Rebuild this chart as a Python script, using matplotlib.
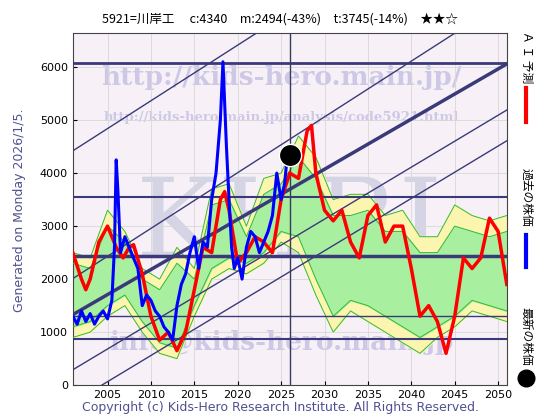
import matplotlib
matplotlib.use("Agg")
import matplotlib.pyplot as plt

plt.rcParams['font.family'] = ['DejaVu Sans', 'Noto Sans CJK JP']
JP = ['Noto Sans CJK JP', 'DejaVu Sans']

# past price (blue)
hist_x = [2001, 2001.5, 2002, 2002.5, 2003, 2003.5, 2004, 2004.5, 2005, 2005.5, 2005.8, 2006.0, 2006.2,
          2006.5, 2007, 2007.5, 2008, 2008.5, 2009, 2009.5, 2010, 2010.5, 2011, 2011.5, 2012, 2012.5,
          2013, 2013.5, 2014, 2014.5, 2015, 2015.5, 2016, 2016.5, 2017, 2017.5, 2018, 2018.3, 2018.7,
          2019, 2019.3, 2019.6, 2020, 2020.5, 2021, 2021.5, 2022, 2022.5, 2023, 2023.5, 2024, 2024.5,
          2025, 2025.4, 2025.7, 2026]
hist_y = [1300, 1150, 1400, 1200, 1350, 1150, 1300, 1400, 1250, 1600, 2600, 4250, 3650,
          2500, 2800, 2600, 2400, 2200, 1500, 1700, 1600, 1400, 1300, 1100, 1000, 850,
          1500, 1900, 2100, 2500, 2800, 2200, 2700, 2600, 3500, 4000, 5000, 6100, 4500,
          3500, 2600, 2200, 2400, 2000, 2600, 2900, 2800, 2500, 2700, 2900, 3200, 4000,
          3500, 3800, 4300, 4340]

# AI forecast (red)
ai_x = [2001, 2002, 2002.5, 2003, 2004, 2005, 2006, 2006.8, 2007.5, 2008, 2009, 2010, 2011, 2012,
        2013, 2014, 2015, 2016, 2017, 2018, 2018.5, 2019, 2020, 2021, 2022, 2023, 2024, 2025, 2026,
        2027, 2028, 2028.5, 2029, 2030, 2031, 2032, 2033, 2034, 2035, 2036, 2037, 2038, 2039, 2040,
        2041, 2042, 2043, 2044, 2045, 2046, 2047, 2048, 2049, 2050, 2051]
ai_y = [2500, 2000, 1800, 2000, 2700, 3000, 2600, 2400, 2600, 2650, 2100, 1300, 850, 1000,
        650, 1000, 1800, 2600, 2500, 3500, 3650, 3300, 2300, 2500, 2800, 2700, 2500, 3500, 4000,
        3900, 4800, 4900, 4000, 3300, 3100, 3300, 2700, 2400, 3200, 3400, 2700, 3000, 3000, 2200,
        1300, 1500, 1200, 600, 1300, 2400, 2200, 2400, 3150, 2900, 1900]

# forecast band
band_x = list(range(2001, 2052, 2))
yel_hi = [2500, 2400, 3300, 2900, 2200, 2000, 2600, 2200, 3700, 3800, 3000, 3900, 4000,
          4700, 4300, 3500, 3600, 3600, 3200, 3300, 2800, 2800, 3400, 3200, 3100, 3200]
yel_lo = [900, 1000, 1300, 1500, 1000, 600, 500, 1300, 2000, 2200, 2100, 2300, 2700,
          2500, 1700, 1000, 1400, 1200, 1000, 800, 600, 900, 1100, 1400, 1300, 1200]
grn_hi = [2300, 2200, 3000, 2700, 2000, 1800, 2300, 2000, 3400, 3500, 2800, 3600, 3800,
          4300, 3900, 3200, 3200, 3300, 2900, 2900, 2500, 2500, 3000, 2900, 2800, 2900]
grn_lo = [1100, 1200, 1500, 1700, 1200, 800, 700, 1500, 2200, 2400, 2300, 2500, 2900,
          2800, 2000, 1300, 1600, 1500, 1300, 1100, 900, 1100, 1300, 1600, 1500, 1400]

# trend lines: value at 2001 and at 2051
trend_start = [4420, 2010, 1330, 290, -330]
trend_end = [9670, 7270, 6060, 5190, 4610]
trend_width = [1, 1, 2.5, 1, 1]
h_levels = [6080, 3550, 2430, 1310, 870]
h_width = [2, 1.5, 2.5, 1, 1.5]
now_year, now_price = 2026, 4340

fig = plt.figure(figsize=(5.6, 4.2), dpi=100)
ax = fig.add_axes([0.130, 0.083, 0.775, 0.838])
ax.set_facecolor('#f7f1f7')
ax.grid(color='#d8d8d8', lw=0.6)

wm = dict(ha='center', va='center', family='serif', fontweight='bold', color='#cdc8e6',
          zorder=1, clip_on=True)
ax.text(2026, 3000, 'KHRI', fontsize=80, color='#d4d4e4', ha='center', va='center',
        family='serif', zorder=0, clip_on=True)
ax.text(2025, 5800, 'http://kids-hero.main.jp/', fontsize=19, **wm)
ax.text(2025, 5050, 'http://kids-hero.main.jp/analysis/code5921.html', fontsize=9.5, **wm)
ax.text(2025, 800, 'info@kids-hero.main.jp', fontsize=19, **wm)

ax.fill_between(band_x, yel_lo, yel_hi, color='#fbf5b0', zorder=2)
ax.fill_between(band_x, grn_lo, grn_hi, color='#a8f0a0', zorder=2)
for arr in (yel_hi, yel_lo, grn_hi, grn_lo):
    ax.plot(band_x, arr, color='#33bb33', lw=0.7, zorder=3)

xs = [2001, 2051]
for s, e, w in zip(trend_start, trend_end, trend_width):
    ax.plot(xs, [s, e], color='#3a3a7a', lw=w, zorder=4)
for h, w in zip(h_levels, h_width):
    ax.axhline(h, color='#3a3a7a', lw=w, zorder=4)
ax.axvline(now_year, color='#3a3a5a', lw=1, zorder=4)

ax.plot(ai_x, ai_y, color='#ff0000', lw=2.5, zorder=5)
ax.plot(hist_x, hist_y, color='#0000ff', lw=2.2, zorder=6)
ax.plot([now_year], [now_price], 'o', color='black', mec='white', ms=16, zorder=7)

ax.set_xlim(2001, 2051)
ax.set_ylim(0, 6640)
ax.set_xticks(range(2005, 2051, 5))
ax.set_yticks(range(0, 6001, 1000))
ax.tick_params(labelsize=8, direction='in', length=3)
for s in ax.spines.values():
    s.set_color('#444444')

fig.text(0.5, 0.955, '5921=川岸工　 c:4340　m:2494(-43%)　t:3745(-14%)　★★☆',
         ha='center', va='center', fontsize=9, family=JP)
fig.text(0.035, 0.5, 'Generated on Monday 2026/1/5.', rotation=90, ha='center', va='center',
         fontsize=9, color='#505090')
fig.text(0.5, 0.03, 'Copyright (c) Kids-Hero Research Institute. All Rights Reserved.',
         ha='center', va='center', fontsize=9, color='#505090')

# right side legend
fig.text(0.94, 0.865, 'Ａ Ｉ 予測', rotation=270, ha='center', va='center', fontsize=8.5, family=JP)
fig.add_artist(plt.Line2D([0.94, 0.94], [0.71, 0.79], color='red', lw=3))
fig.text(0.94, 0.53, '過去の株価', rotation=270, ha='center', va='center', fontsize=8.5, family=JP)
fig.add_artist(plt.Line2D([0.94, 0.94], [0.365, 0.44], color='blue', lw=3))
fig.text(0.94, 0.2, '最新の株価', rotation=270, ha='center', va='center', fontsize=8.5, family=JP)
fig.add_artist(plt.Line2D([0.94], [0.1], marker='o', color='black', ms=12))

fig.savefig('out.png', dpi=100)
